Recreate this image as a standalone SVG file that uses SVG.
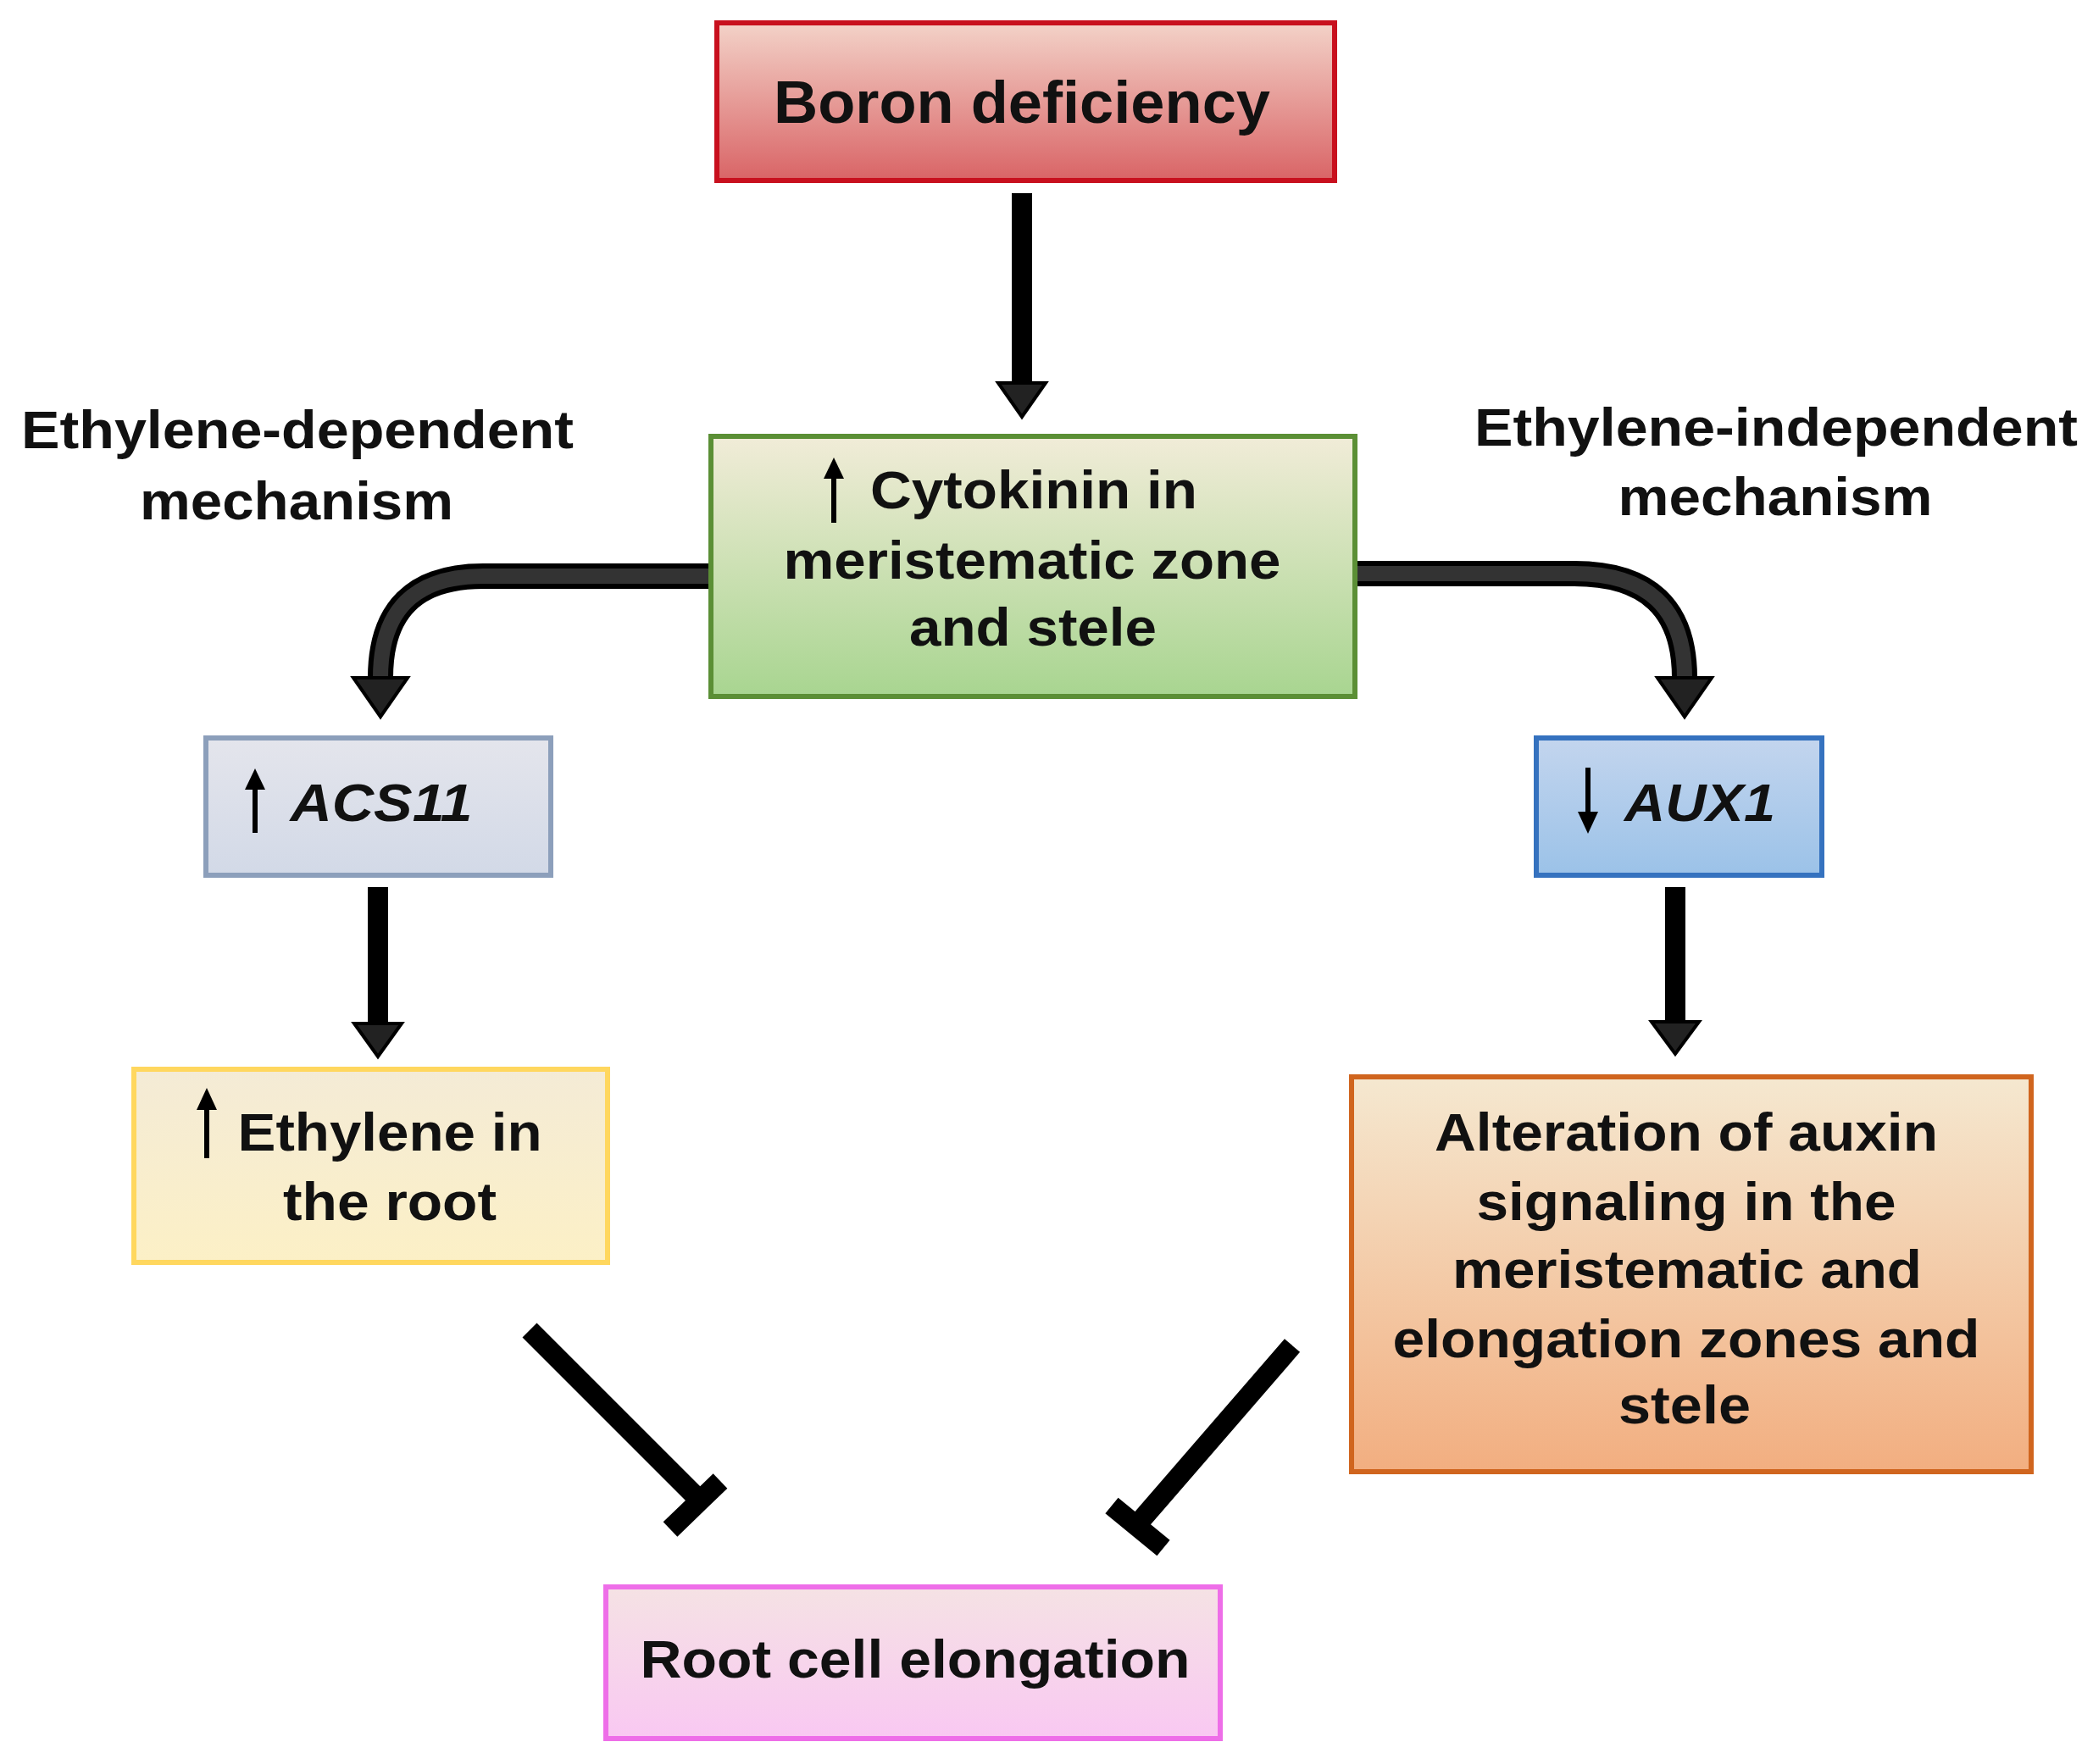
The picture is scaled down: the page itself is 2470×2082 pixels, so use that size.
<svg xmlns="http://www.w3.org/2000/svg" width="2470" height="2082" viewBox="0 0 2470 2082">
<defs>
<linearGradient id="gRed" x1="0" y1="0" x2="0" y2="1"><stop offset="0" stop-color="#f3d2c8"/><stop offset="1" stop-color="#d96466"/></linearGradient>
<linearGradient id="gGreen" x1="0" y1="0" x2="0" y2="1"><stop offset="0" stop-color="#f1ecd8"/><stop offset="1" stop-color="#a8d590"/></linearGradient>
<linearGradient id="gGrey" x1="0" y1="0" x2="0" y2="1"><stop offset="0" stop-color="#e4e5ec"/><stop offset="1" stop-color="#d2d9e7"/></linearGradient>
<linearGradient id="gBlue" x1="0" y1="0" x2="0" y2="1"><stop offset="0" stop-color="#c3d5ee"/><stop offset="1" stop-color="#9bc2e8"/></linearGradient>
<linearGradient id="gYellow" x1="0" y1="0" x2="0" y2="1"><stop offset="0" stop-color="#f4ebd6"/><stop offset="1" stop-color="#fcf0c6"/></linearGradient>
<linearGradient id="gOrange" x1="0" y1="0" x2="0" y2="1"><stop offset="0" stop-color="#f5e8d0"/><stop offset="1" stop-color="#f2ae80"/></linearGradient>
<linearGradient id="gPink" x1="0" y1="0" x2="0" y2="1"><stop offset="0" stop-color="#f5e2e4"/><stop offset="1" stop-color="#f9c8f2"/></linearGradient>
</defs>
<style>
text{font-family:"Liberation Sans",Arial,sans-serif;font-weight:bold;fill:#111;text-anchor:middle}
.t{font-size:63px}
.it{font-style:italic}
.box{stroke-width:6}
.sh{stroke:#000;stroke-width:24;fill:none}
.sa{stroke:#000;stroke-width:6;fill:none}
</style>
<rect width="2470" height="2082" fill="#fff"/>
<g id="connectors">
<line class="sh" x1="1206" y1="228" x2="1206" y2="455"/>
<polygon points="1178,452 1234,452 1206,492" fill="#222" stroke="#000" stroke-width="4"/>
<path d="M876,680 H570 Q449,680 449,800" fill="none" stroke="#000" stroke-width="30"/>
<path d="M876,680 H570 Q449,680 449,800" fill="none" stroke="#333" stroke-width="18"/>
<polygon points="417,800 481,800 449,846" fill="#222" stroke="#000" stroke-width="4"/>
<path d="M1553,677 H1858 Q1988,677 1988,800" fill="none" stroke="#000" stroke-width="30"/>
<path d="M1553,677 H1858 Q1988,677 1988,800" fill="none" stroke="#333" stroke-width="18"/>
<polygon points="1956,800 2020,800 1988,846" fill="#222" stroke="#000" stroke-width="4"/>
<line class="sh" x1="446" y1="1047" x2="446" y2="1212"/>
<polygon points="418,1208 474,1208 446,1247" fill="#222" stroke="#000" stroke-width="4"/>
<line class="sh" x1="1977" y1="1047" x2="1977" y2="1210"/>
<polygon points="1949,1206 2005,1206 1977,1244" fill="#222" stroke="#000" stroke-width="4"/>
<line class="sh" x1="625" y1="1570" x2="822" y2="1767"/>
<line class="sh" x1="791" y1="1805" x2="850" y2="1748"/>
<line class="sh" x1="1525" y1="1588" x2="1345" y2="1796"/>
<line class="sh" x1="1312" y1="1777" x2="1373" y2="1827"/>
</g>
<g id="boron">
<rect class="box" x="846" y="27" width="729" height="186" fill="url(#gRed)" stroke="#c8101e"/>
<text x="1206" y="145" font-size="70" textLength="586" lengthAdjust="spacingAndGlyphs">Boron deficiency</text>
</g>
<g id="cytokinin">
<rect class="box" x="839" y="515" width="760" height="307" fill="url(#gGreen)" stroke="#5b8f35"/>
<line class="sa" x1="984" y1="560" x2="984" y2="617"/>
<polygon points="972,565 996,565 984,540" fill="#000"/>
<text class="t" x="1220" y="600" textLength="386" lengthAdjust="spacingAndGlyphs">Cytokinin in</text>
<text class="t" x="1218" y="683" textLength="587" lengthAdjust="spacingAndGlyphs">meristematic zone</text>
<text class="t" x="1219" y="762" textLength="292" lengthAdjust="spacingAndGlyphs">and stele</text>
</g>
<g id="label-dependent">
<text class="t" x="351" y="529" textLength="652" lengthAdjust="spacingAndGlyphs">Ethylene-dependent</text>
<text class="t" x="350" y="613" textLength="370" lengthAdjust="spacingAndGlyphs">mechanism</text>
</g>
<g id="label-independent">
<text class="t" x="2096" y="526" textLength="712" lengthAdjust="spacingAndGlyphs">Ethylene-independent</text>
<text class="t" x="2095" y="608" textLength="371" lengthAdjust="spacingAndGlyphs">mechanism</text>
</g>
<g id="acs11">
<rect class="box" x="243" y="871" width="407" height="162" fill="url(#gGrey)" stroke="#8c9fbb"/>
<line class="sa" x1="301" y1="928" x2="301" y2="983"/>
<polygon points="289,932 313,932 301,907" fill="#000"/>
<text class="t it" x="450" y="969" textLength="215" lengthAdjust="spacingAndGlyphs">ACS11</text>
</g>
<g id="aux1">
<rect class="box" x="1813" y="871" width="337" height="162" fill="url(#gBlue)" stroke="#3572bf"/>
<line class="sa" x1="1874" y1="906" x2="1874" y2="962"/>
<polygon points="1862,958 1886,958 1874,984" fill="#000"/>
<text class="t it" x="2006" y="969" textLength="178" lengthAdjust="spacingAndGlyphs">AUX1</text>
</g>
<g id="ethylene">
<rect class="box" x="158" y="1262" width="559" height="228" fill="url(#gYellow)" stroke="#ffd75e"/>
<line class="sa" x1="244" y1="1305" x2="244" y2="1367"/>
<polygon points="232,1310 256,1310 244,1284" fill="#000"/>
<text class="t" x="460" y="1358" textLength="359" lengthAdjust="spacingAndGlyphs">Ethylene in</text>
<text class="t" x="460" y="1440" textLength="252" lengthAdjust="spacingAndGlyphs">the root</text>
</g>
<g id="auxin">
<rect class="box" x="1595" y="1271" width="802" height="466" fill="url(#gOrange)" stroke="#d0651e"/>
<text class="t" x="1990" y="1358" textLength="594" lengthAdjust="spacingAndGlyphs">Alteration of auxin</text>
<text class="t" x="1990" y="1440" textLength="495" lengthAdjust="spacingAndGlyphs">signaling in the</text>
<text class="t" x="1991" y="1520" textLength="554" lengthAdjust="spacingAndGlyphs">meristematic and</text>
<text class="t" x="1990" y="1602" textLength="693" lengthAdjust="spacingAndGlyphs">elongation zones and</text>
<text class="t" x="1988" y="1680" textLength="156" lengthAdjust="spacingAndGlyphs">stele</text>
</g>
<g id="root">
<rect class="box" x="715" y="1873" width="725" height="179" fill="url(#gPink)" stroke="#ee6ee8"/>
<text class="t" x="1080" y="1980" textLength="649" lengthAdjust="spacingAndGlyphs">Root cell elongation</text>
</g>
</svg>
